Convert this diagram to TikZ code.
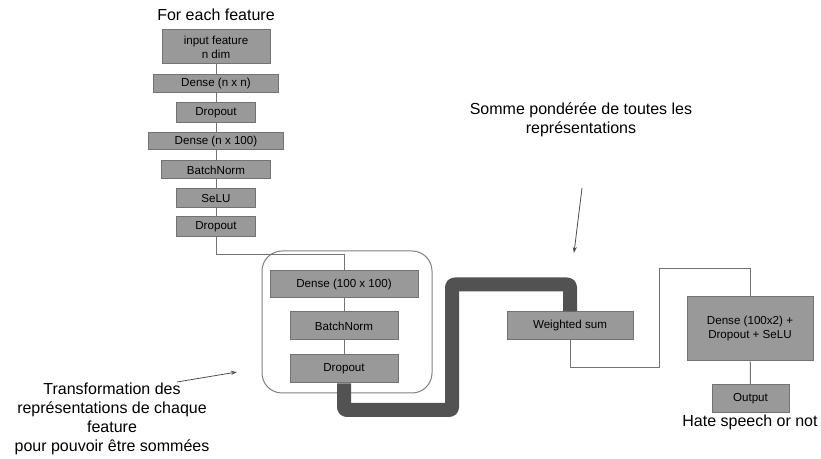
\documentclass[tikz,border=0pt]{standalone}
\usepackage{fontspec}
\setmainfont{Liberation Sans}
\usetikzlibrary{arrows.meta}
\begin{document}
\begin{tikzpicture}[x=0.75pt,y=-0.75pt,
  layer/.style 2 args={draw=black!55, fill=black!40, line width=0.75pt, inner sep=0pt,
    align=center, font=\fontsize{8.7}{10.5}\selectfont,
    minimum width=#1*0.75pt, minimum height=#2*0.75pt},
  link/.style={draw=black!55, line width=0.75pt},
  flow/.style={draw=black!68, line width=10.5pt, rounded corners=2pt, line join=round},
  note/.style={align=center, font=\fontsize{12}{14.2}\selectfont, inner sep=0pt},
  pointer/.style={draw=black!70, line width=0.6pt, -{Stealth[length=4.5pt,width=3pt]}},
  group/.style={draw=black!50, line width=0.75pt, rounded corners=15pt, inner sep=0pt,
    minimum width=170*0.75pt, minimum height=142*0.75pt}
]
\useasboundingbox (0,0) rectangle (821,459);

% per-feature branch
\node[note] (title) at (216,15) {For each feature};
\node[layer={108}{34}] (in)   at (216,47)    {input feature\\n dim};
\node[layer={125}{18}] (dnn)  at (216,84)    {Dense (n x n)};
\node[layer={79}{20}]  (do1)  at (216,113)   {Dropout};
\node[layer={135}{17}] (dn1)  at (216,141.5) {Dense (n x 100)};
\node[layer={109}{18}] (bn1)  at (216,170)   {BatchNorm};
\node[layer={79}{19}]  (selu) at (216,198.5) {SeLU};
\node[layer={79}{20}]  (do2)  at (216,227)   {Dropout};
\draw[link] (in) -- (dnn) -- (do1) -- (dn1) -- (bn1) -- (selu) -- (do2);

% shared transformation block
\node[group] (grp) at (347,322) {};
\coordinate (j1) at (216,255);
\node[layer={148}{27}] (d100) at (344,284.5) {Dense (100 x 100)};
\node[layer={108}{28}] (bn2)  at (344,326)   {BatchNorm};
\node[layer={108}{28}] (do3)  at (344,369)   {Dropout};
\draw[link] (do2.south) -- (j1) -| (d100.north);
\draw[link] (d100) -- (bn2) -- (do3);

% weighted sum and classifier
\node[layer={126}{28}] (ws)  at (570,326)   {Weighted sum};
\node[layer={126}{64}] (d2)  at (750,329)   {Dense (100x2) +\\Dropout + SeLU};
\node[layer={77}{28}]  (out) at (750.5,399) {Output};

\coordinate (t1) at (344,410);
\coordinate (t2) at (452,284.5);
\draw[flow] (do3.south) -- (t1) -| (t2) -| (ws.north);

\coordinate (j2) at (570,368);
\coordinate (j3) at (659,269);
\draw[link] (ws.south) -- (j2) -| (j3) -| (d2.north);
\draw[link] (d2) -- (out);
\node[note] (hate) at (750,422) {Hate speech or not};

% annotations
\node[note] (somme) at (581,120) {Somme pondérée de toutes les\\représentations};
\coordinate (s1) at (582,188);
\coordinate (s2) at (574,253);
\draw[pointer] (s1) -- (s2);

\node[note] (trans) at (112,419) {Transformation des\\représentations de chaque\\feature\\pour pouvoir être sommées};
\coordinate (a1) at (177,382);
\coordinate (a2) at (237,372);
\draw[pointer] (a1) -- (a2);
\end{tikzpicture}
\end{document}
